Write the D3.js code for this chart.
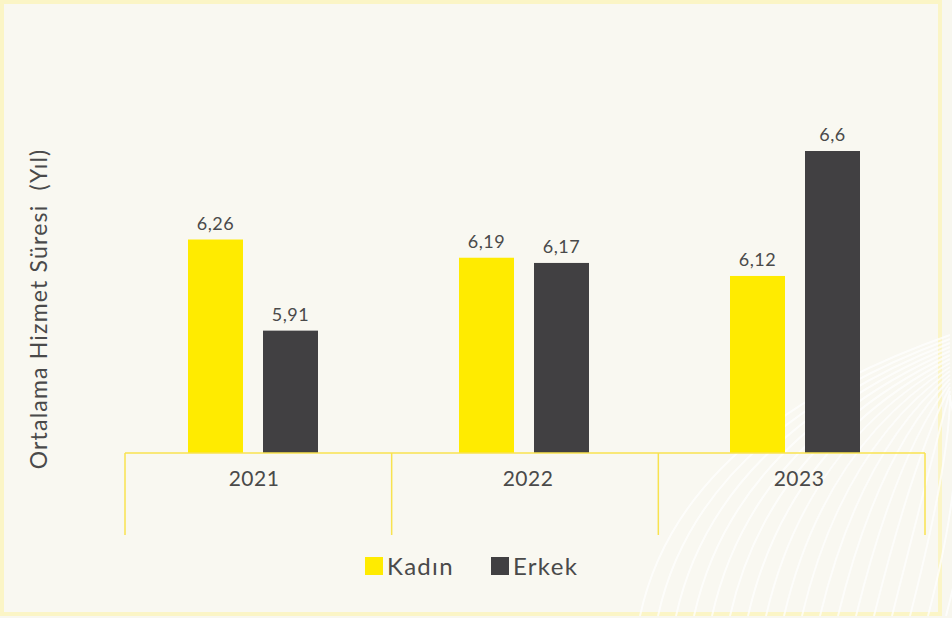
<!DOCTYPE html>
<meta charset="utf-8">
<html>
<head>
  <title>Ortalama Hizmet Süresi</title>
  <style>
    html, body { margin: 0; padding: 0; background: #f8f7ef; }
    svg { display: block; font-family: Lato, "Open Sans", sans-serif; }
  </style>
</head>
<body>

  <svg id="chart" width="952" height="618"></svg>

  <script src="https://d3js.org/d3.v7.min.js"></script>
  <script>

    // data
    var years = ["2021", "2022", "2023"]
    var seriesNames = ["Kadın", "Erkek"]
    var kadin = [6.26, 6.19, 6.12]
    var erkek = [5.91, 6.17, 6.6]
    var valueLabels = [["6,26", "5,91"], ["6,19", "6,17"], ["6,12", "6,6"]]
    var colors = ["#ffeb00", "#414042"]

    var svg = d3.select("#chart"),
      width = +svg.attr("width"),
      height = +svg.attr("height");

    // card background + border
    svg.append("rect")
      .attr("x", 2).attr("y", 2)
      .attr("width", 938).attr("height", 612)
      .attr("fill", "#f9f8f1")
      .attr("stroke", "#fbf5c6")
      .attr("stroke-width", 4)

    // faint decorative fan in the bottom right corner
    var deco = svg.append("g")
      .attr("fill", "none")
      .attr("stroke", "#ffffff")
      .attr("stroke-width", 2)
      .attr("opacity", 0.75)
    d3.range(18).forEach(function (i) {
      var ex = 640 + i * 18
      deco.append("path")
        .attr("d", "M950," + (335 + i * 4) + " Q" + (ex + 40) + "," + (430 + i * 2) + " " + ex + ",616")
    })

    // scales: band scale for the category frame, point scale for group centres
    var xBand = d3.scaleBand()
      .domain(years)
      .range([125, 925])

    var x = d3.scalePoint()
      .domain(years)
      .range([253, 795])

    var y = d3.scaleLinear()
      .domain([5.44, 6.6])
      .range([453, 151])

    var rows = years.map(function (yr, i) {
      return { year: yr, values: [kadin[i], erkek[i]], labels: valueLabels[i] }
    })

    var barW = 55, gap = 20

    // bars
    var groups = svg.selectAll("g.year")
      .data(rows)
      .enter()
      .append("g")
      .attr("class", "year")
      .attr("transform", function (d) { return "translate(" + x(d.year) + ",0)" })

    groups.selectAll("rect")
      .data(function (d) { return d.values.map(function (v, j) { return { v: v, j: j, label: d.labels[j] } }) })
      .enter()
      .append("rect")
      .attr("x", function (d) { return d.j == 0 ? -gap / 2 - barW : gap / 2 })
      .attr("y", function (d) { return y(d.v) })
      .attr("width", barW)
      .attr("height", function (d) { return y(5.44) - y(d.v) })
      .attr("fill", function (d) { return colors[d.j] })

    // value labels
    groups.selectAll("text")
      .data(function (d) { return d.values.map(function (v, j) { return { v: v, j: j, label: d.labels[j] } }) })
      .enter()
      .append("text")
      .attr("x", function (d) { return d.j == 0 ? -gap / 2 - barW / 2 : gap / 2 + barW / 2 })
      .attr("y", function (d) { return y(d.v) - 10 })
      .attr("text-anchor", "middle")
      .style("font-size", "18px")
      .style("letter-spacing", "0.5px")
      .style("fill", "#4a4a4a")
      .text(function (d) { return d.label })

    // category axis: baseline, separators and labels
    var axisColor = "#f8e34f"
    svg.append("line")
      .attr("x1", xBand.range()[0]).attr("x2", xBand.range()[1])
      .attr("y1", 453).attr("y2", 453)
      .attr("stroke", axisColor)
      .attr("stroke-width", 1.5)

    var seps = years.map(function (yr) { return xBand(yr) }).concat([xBand.range()[1]])
    svg.selectAll("line.sep")
      .data(seps)
      .enter()
      .append("line")
      .attr("class", "sep")
      .attr("x1", function (d) { return d }).attr("x2", function (d) { return d })
      .attr("y1", 453).attr("y2", 535)
      .attr("stroke", axisColor)
      .attr("stroke-width", 1.5)

    svg.selectAll("text.cat")
      .data(years)
      .enter()
      .append("text")
      .attr("class", "cat")
      .attr("x", function (d, i) { return x(d) + (i == 0 ? 1 : 4) })
      .attr("y", 486)
      .attr("text-anchor", "middle")
      .style("font-size", "21px")
      .style("letter-spacing", "0.5px")
      .style("fill", "#4a4a4a")
      .text(function (d) { return d })

    // y axis title
    svg.append("text")
      .attr("transform", "translate(47,309) rotate(-90)")
      .attr("text-anchor", "middle")
      .style("font-size", "23px")
      .style("letter-spacing", "1.2px")
      .style("fill", "#4a4a4a")
      .style("white-space", "pre")
      .text("Ortalama Hizmet Süresi  (Yıl)")

    // legend
    var legendX = [365, 491]
    var legend = svg.selectAll("g.legend")
      .data(seriesNames)
      .enter()
      .append("g")
      .attr("class", "legend")
      .attr("transform", function (d, i) { return "translate(" + legendX[i] + ",557)" })

    legend.append("rect")
      .attr("width", 18).attr("height", 18)
      .attr("fill", function (d, i) { return colors[i] })

    legend.append("text")
      .attr("x", 22)
      .attr("y", 18)
      .style("font-size", "24px")
      .style("letter-spacing", "1.3px")
      .style("fill", "#4a4a4a")
      .text(function (d) { return d })

  </script>
</body>
</html>
